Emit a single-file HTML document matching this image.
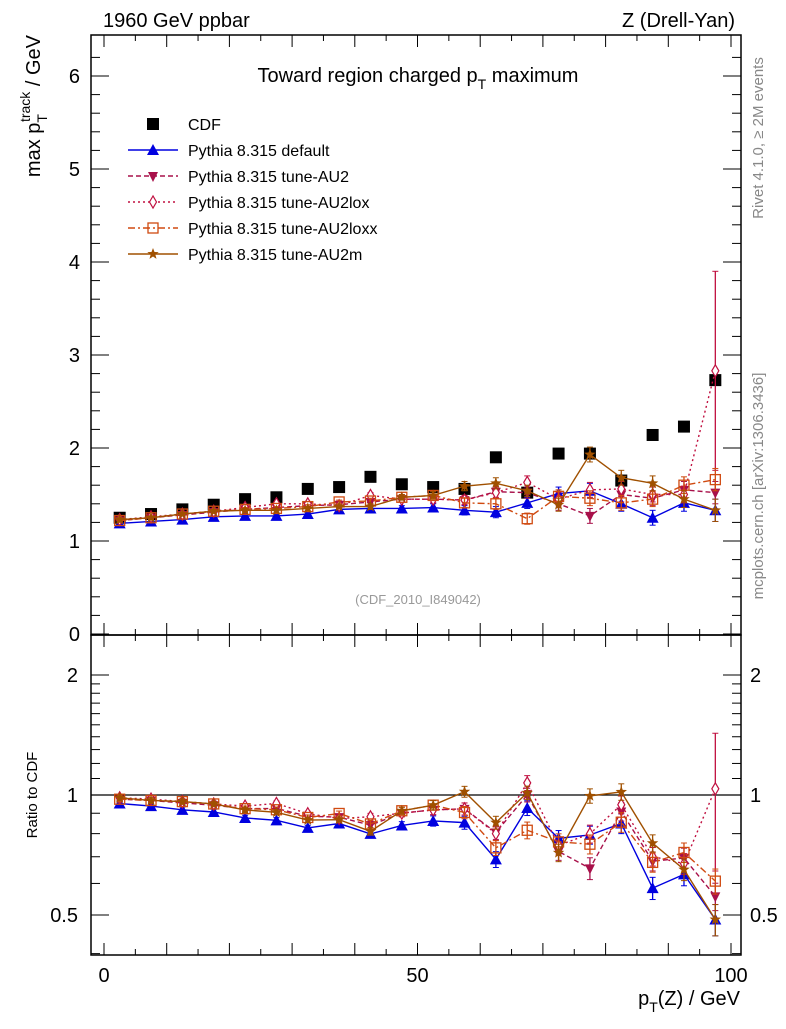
<!DOCTYPE html>
<html><head><meta charset="utf-8"><style>
body{margin:0;background:#fff;}
svg{font-family:"Liberation Sans",sans-serif;}
</style></head><body>
<svg id="chart" width="786" height="1024" viewBox="0 0 786 1024" xmlns="http://www.w3.org/2000/svg">
<rect width="786" height="1024" fill="#fff"/>
<g id="axes"></g>
<g id="marks"></g>
<text x="103" y="27" font-size="20">1960 GeV ppbar</text>
<text x="735" y="27" font-size="20" text-anchor="end">Z (Drell-Yan)</text>
<text x="418" y="82" font-size="20" text-anchor="middle">Toward region charged p<tspan font-size="14" dy="7">T</tspan><tspan dy="-7"> maximum</tspan></text>
<text x="418" y="604" font-size="13" fill="#999" text-anchor="middle">(CDF_2010_I849042)</text>
<text transform="translate(763,138) rotate(-90)" font-size="15" fill="#888" text-anchor="middle">Rivet 4.1.0, ≥ 2M events</text>
<text transform="translate(763,486) rotate(-90)" font-size="15" fill="#888" text-anchor="middle">mcplots.cern.ch [arXiv:1306.3436]</text>
<text transform="translate(40,35) rotate(-90)" font-size="20" text-anchor="end">max p<tspan font-size="14" dy="7">T</tspan><tspan font-size="14" dy="-17" dx="-8">track</tspan><tspan dy="10"> / GeV</tspan></text>
<text transform="translate(37,795) rotate(-90)" font-size="15" text-anchor="middle">Ratio to CDF</text>
<text x="740" y="1005" font-size="20" text-anchor="end">p<tspan font-size="14" dy="7">T</tspan><tspan dy="-7">(Z) / GeV</tspan></text>
<g id="legend"></g>
</svg>
<script>
const xs=[2.5,7.5,12.5,17.5,22.5,27.5,32.5,37.5,42.5,47.5,52.5,57.5,62.5,67.5,72.5,77.5,82.5,87.5,92.5,97.5];
const cdf=[1.25,1.29,1.34,1.39,1.45,1.47,1.56,1.58,1.69,1.61,1.58,1.56,1.90,1.52,1.94,1.94,1.65,2.14,2.23,2.73];
const cdfErr=[0.01,0.01,0.01,0.01,0.01,0.01,0.01,0.01,0.01,0.01,0.01,0.01,0.01,0.01,0.01,0.01,0.01,0.01,0.01,0.01];
const pyDefault=[1.19,1.21,1.23,1.26,1.27,1.27,1.29,1.34,1.35,1.35,1.36,1.33,1.31,1.41,1.51,1.54,1.40,1.25,1.41,1.33];
const pyAU2=[1.22,1.25,1.28,1.31,1.34,1.36,1.38,1.39,1.42,1.45,1.45,1.44,1.53,1.52,1.40,1.27,1.50,1.46,1.55,1.52];
const pyAU2lox=[1.23,1.26,1.29,1.32,1.36,1.40,1.40,1.38,1.49,1.45,1.45,1.44,1.52,1.63,1.45,1.55,1.56,1.50,1.50,2.83];
const pyAU2loxx=[1.22,1.25,1.29,1.32,1.34,1.35,1.37,1.42,1.43,1.47,1.49,1.41,1.40,1.24,1.48,1.46,1.41,1.45,1.60,1.66];
const pyAU2m=[1.23,1.25,1.29,1.32,1.33,1.33,1.35,1.37,1.37,1.47,1.49,1.59,1.62,1.54,1.39,1.93,1.68,1.62,1.45,1.33];
const errSmall=[0.02,0.02,0.02,0.02,0.02,0.02,0.02,0.02,0.03,0.03,0.04,0.05,0.06,0.06,0.07,0.08,0.08,0.08,0.09,0.12];
const errLox=[0.02,0.02,0.02,0.02,0.02,0.02,0.02,0.02,0.03,0.03,0.04,0.05,0.06,0.07,0.07,0.08,0.08,0.08,0.09,1.07];
const mainTicks=[0,1,2,3,4,5,6];
const ratioTicks=[0.5,1,2];
const xTickLabels=[0,50,100];

const NS="http://www.w3.org/2000/svg";
const L=91,R=741,T=35,MB=635,RB=955;
const X=v=>104+v*6.27;
const Y=v=>634-v*93;
const YR=r=>795-120*Math.log2(r);
function mk(tag,at,parent){const e=document.createElementNS(NS,tag);for(const k in at)e.setAttribute(k,at[k]);(parent||document.getElementById('marks')).appendChild(e);return e;}
const ax=document.getElementById('axes');

// frames
let f1=mk('rect',{x:L,y:T,width:R-L,height:MB-T,fill:'none',stroke:'#000','stroke-width':1.5},ax);


let f2=mk('rect',{x:L,y:MB,width:R-L,height:RB-MB,fill:'none',stroke:'#000','stroke-width':1.5},ax);


let ref=mk('line',{x1:L,x2:R,y1:YR(1),y2:YR(1),stroke:'#000','stroke-width':1.2},ax);



// x ticks
for(let v=0;v<=100;v+=5){
 const big=v%10===0, len=big?12:6;
 for(const [yb,yt] of [[MB,T],[RB,MB]]){
  mk('line',{x1:X(v),x2:X(v),y1:yb,y2:yb-len,stroke:'#000'},ax);
  mk('line',{x1:X(v),x2:X(v),y1:yt,y2:yt+len,stroke:'#000'},ax);
 }
}
xTickLabels.forEach(v=>{const t=mk('text',{x:X(v),y:982,'font-size':20,'text-anchor':'middle'},ax);t.textContent=v;

});
// main y ticks
for(let v=0;v<=6.4;v+=0.2){
 const big=Math.abs(v-Math.round(v))<1e-6, len=big?18:9;
 mk('line',{x1:L,x2:L+len,y1:Y(v),y2:Y(v),stroke:'#000'},ax);
 mk('line',{x1:R,x2:R-len,y1:Y(v),y2:Y(v),stroke:'#000'},ax);
}
mainTicks.forEach(v=>{const t=mk('text',{x:80,y:Y(v)+7,'font-size':20,'text-anchor':'end'},ax);t.textContent=v;

});
// ratio ticks
[0.4,0.5,0.6,0.7,0.8,0.9,1,1.1,1.2,1.3,1.4,1.5,1.6,1.7,1.8,1.9,2].forEach(v=>{
 const big=(v===0.5||v===1||v===2), len=big?18:9;
 mk('line',{x1:L,x2:L+len,y1:YR(v),y2:YR(v),stroke:'#000'},ax);
 mk('line',{x1:R,x2:R-len,y1:YR(v),y2:YR(v),stroke:'#000'},ax);
});
ratioTicks.forEach(v=>{
 const t=mk('text',{x:78,y:YR(v)+7,'font-size':20,'text-anchor':'end'},ax);t.textContent=v;
 
 
 const t2=mk('text',{x:750,y:YR(v)+7,'font-size':20},ax);t2.textContent=v;
 
 
});

function marker(kind,x,y,color,g){
 if(kind==='sq')return mk('rect',{x:x-6,y:y-6,width:12,height:12,fill:'#000'},g);
 if(kind==='tri')return mk('polygon',{points:`${x},${y-6} ${x-6},${y+5} ${x+6},${y+5}`,fill:color},g);
 if(kind==='tridown')return mk('polygon',{points:`${x},${y+6} ${x-5},${y-4} ${x+5},${y-4}`,fill:color},g);
 if(kind==='dia')return mk('polygon',{points:`${x},${y-6} ${x-3.5},${y} ${x},${y+6} ${x+3.5},${y}`,fill:'#fff',stroke:color,'stroke-width':1.2},g);
 if(kind==='osq')return mk('rect',{x:x-5,y:y-5,width:10,height:10,fill:'none',stroke:color,'stroke-width':1.3},g);
 if(kind==='star'){let p=[];for(let i=0;i<10;i++){const r=i%2?2.5:6,a=-Math.PI/2+i*Math.PI/5;p.push((x+r*Math.cos(a)).toFixed(1)+','+(y+r*Math.sin(a)).toFixed(1));}
  return mk('polygon',{points:p.join(' '),fill:color},g);}
}
const series=[
 {name:'pythia-default',vals:pyDefault,err:errSmall,color:'#0000e0',dash:'',kind:'tri',label:'Pythia 8.315 default'},
 {name:'pythia-au2',vals:pyAU2,err:errSmall,color:'#a8104a',dash:'5,3',kind:'tridown',label:'Pythia 8.315 tune-AU2'},
 {name:'pythia-au2lox',vals:pyAU2lox,err:errLox,color:'#c01040',dash:'2,3',kind:'dia',label:'Pythia 8.315 tune-AU2lox'},
 {name:'pythia-au2loxx',vals:pyAU2loxx,err:errSmall,color:'#d04a10',dash:'7,3,2,3',kind:'osq',label:'Pythia 8.315 tune-AU2loxx'},
 {name:'pythia-au2m',vals:pyAU2m,err:errSmall,color:'#a05000',dash:'',kind:'star',label:'Pythia 8.315 tune-AU2m'}
];
const mg=document.getElementById('marks');
// CDF
const cg=mk('g',{},mg);


xs.forEach((x,i)=>{const m=marker('sq',X(x),Y(cdf[i]),'#000',cg);
 
 });
series.forEach(s=>{
 const g=mk('g',{},mg);
 
 
 const ptsM=xs.map((x,i)=>X(x)+','+Y(s.vals[i])).join(' ');
 const ptsR=xs.map((x,i)=>X(x)+','+YR(s.vals[i]/cdf[i])).join(' ');
 mk('polyline',{points:ptsM,fill:'none',stroke:s.color,'stroke-width':1.4,'stroke-dasharray':s.dash},g);
 mk('polyline',{points:ptsR,fill:'none',stroke:s.color,'stroke-width':1.4,'stroke-dasharray':s.dash},g);
 xs.forEach((x,i)=>{
  const v=s.vals[i],e=s.err[i],r=v/cdf[i],er=e/cdf[i];
  mk('line',{x1:X(x),x2:X(x),y1:Y(v-e),y2:Y(v+e),stroke:s.color,'stroke-width':1.3},g);
  mk('line',{x1:X(x)-3,x2:X(x)+3,y1:Y(v+e),y2:Y(v+e),stroke:s.color},g);
  mk('line',{x1:X(x)-3,x2:X(x)+3,y1:Y(v-e),y2:Y(v-e),stroke:s.color},g);
  mk('line',{x1:X(x),x2:X(x),y1:YR(Math.max(r-er,0.3)),y2:YR(r+er),stroke:s.color,'stroke-width':1.3},g);
  mk('line',{x1:X(x)-3,x2:X(x)+3,y1:YR(r+er),y2:YR(r+er),stroke:s.color},g);
  mk('line',{x1:X(x)-3,x2:X(x)+3,y1:YR(Math.max(r-er,0.3)),y2:YR(Math.max(r-er,0.3)),stroke:s.color},g);
  const m=marker(s.kind,X(x),Y(v),s.color,g);
  
  
  const m2=marker(s.kind,X(x),YR(r),s.color,g);
  
  
 });
});
// legend
const lg=document.getElementById('legend');
const e0=mk('g',{},lg);


marker('sq',153,124,'#000',e0);
let t0=mk('text',{x:188,y:130,'font-size':16},e0);t0.textContent='CDF';
series.forEach((s,i)=>{
 const y=150+i*26;
 const e=mk('g',{},lg);
 
 
 mk('line',{x1:128,x2:178,y1:y,y2:y,stroke:s.color,'stroke-width':1.4,'stroke-dasharray':s.dash},e);
 marker(s.kind,153,y,s.color,e);
 const t=mk('text',{x:188,y:y+6,'font-size':16},e);t.textContent=s.label;
});
</script>
</body></html>
